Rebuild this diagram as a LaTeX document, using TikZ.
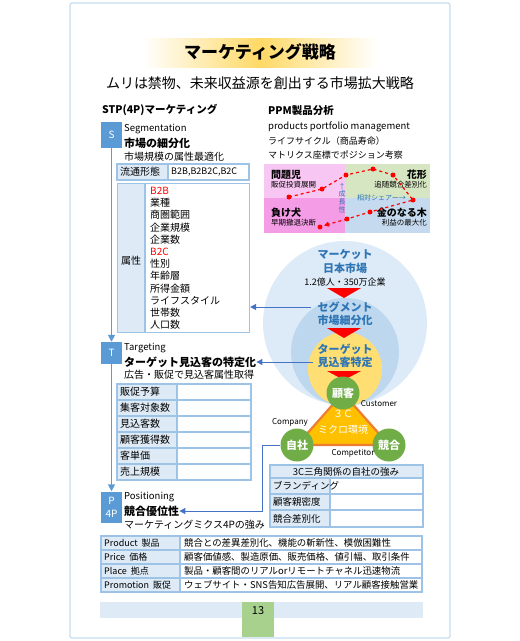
\documentclass[tikz,border=0pt]{standalone}
\usepackage{fontspec}
\setmainfont{Noto Sans CJK JP}
\usetikzlibrary{arrows.meta,calc}
\definecolor{frameblue}{HTML}{C5DCF0}
\definecolor{stpblue}{HTML}{5B9BD5}
\definecolor{tblline}{HTML}{9DC3E6}
\definecolor{tblfill}{HTML}{DEEBF7}
\definecolor{darkblue}{HTML}{4472C4}
\definecolor{txtblue}{HTML}{2E75B6}
\definecolor{circA}{HTML}{DDEAF7}
\definecolor{circB}{HTML}{BDD7EE}
\definecolor{circC}{HTML}{FFDF73}
\definecolor{gold}{HTML}{FFD966}
\definecolor{green3c}{HTML}{70AD47}
\definecolor{tri}{HTML}{FFC000}
\definecolor{trib}{HTML}{ED7D31}
\definecolor{ppmA}{HTML}{F8C6F2}
\definecolor{ppmB}{HTML}{F49DE6}
\definecolor{ppmC}{HTML}{D6E6C2}
\definecolor{ppmD}{HTML}{C6DAEF}
\definecolor{pagegreen}{HTML}{A9D18E}
\newcommand{\fs}[2]{\fontsize{#1}{#2}\selectfont}
\tikzset{
  txt/.style={inner sep=0pt, anchor=west},
  stpbox/.style={fill=stpblue, text=white, minimum width=21pt, inner sep=0pt, font=\fs{10}{11}, align=center},
  tbl/.style={draw=tblline, line width=1.1pt},
  cellfill/.style={fill=tblfill},
  gcirc/.style={circle, fill=green3c, text=white, minimum size=33pt, inner sep=0pt, font=\bfseries\fs{11}{12}},
  redtri/.style={fill=red},
  bluearrow/.style={darkblue, line width=1pt, -{Triangle[length=6pt,width=6pt]}},
  stpline/.style={stpblue, line width=1.6pt, -{Triangle[length=7pt,width=7pt]}},
  celltxt/.style={inner sep=0pt, anchor=west, font=\fs{10}{12}},
  smalllbl/.style={inner sep=0pt, font=\fs{8}{9}},
  ctext/.style={inner sep=0pt, text=txtblue, font=\bfseries\fs{11}{12}},
  reddot/.style={fill=red},
}
\begin{document}
\begin{tikzpicture}[x=1pt,y=-1pt]
\useasboundingbox (0,0) rectangle (520,641);
% frame
\draw[frameblue, line width=1.2pt, rounded corners=2pt] (70,3) rectangle (450,638);
% title
\shade[left color=white, right color=white, middle color=gold] (143,38) rectangle (377,67);
\node[inner sep=0pt, font=\bfseries\fs{17}{18}] (title) at (260,52) {マーケティング戦略};
\node[inner sep=0pt, font=\fs{14}{15}] (subtitle) at (260,83) {ムリは禁物、未来収益源を創出する市場拡大戦略};

% STP heading
\node[txt, font=\bfseries\fs{10.5}{12}] (stphead) at (102,110) {STP(4P)マーケティング};

% S
\node[stpbox, minimum height=26pt] (S) at (111.5,135) {S};
\node[txt, font=\fs{9.5}{11}] (segL) at (124,129) {Segmentation};
\node[txt, font=\bfseries\fs{11}{12}] (segT) at (124,143) {市場の細分化};
\node[txt, font=\fs{10}{11}] (segS) at (124,157) {市場規模の属性最適化};

% table 1
\fill[tblfill] (117,164) rectangle (168,180);
\draw[tbl] (117,164) rectangle (249,180);
\draw[tbl] (168,164) -- (168,180);
\node[celltxt] (ryutsu) at (120,172) {流通形態};
\node[celltxt, font=\fs{9}{10}] (b2b) at (171,172) {B2B,B2B2C,B2C};
\fill[tblfill] (117,183) rectangle (145,332);
\node[tbl, minimum width=132pt, minimum height=149pt, anchor=north west, inner sep=0pt] (attr) at (117,183) {};
\draw[tbl] (145,183) -- (145,332);
\node[celltxt] (zokusei) at (121,261) {属性};
\node[inner sep=0pt, anchor=north west, align=left, font=\fs{10}{12.2}] (attrlist) at (150,187)
  {{\color{red}B2B}\\業種\\商圏範囲\\企業規模\\企業数\\{\color{red}B2C}\\性別\\年齢層\\所得金額\\ライフスタイル\\世帯数\\人口数};

% T
\node[stpbox, minimum height=22pt] (T) at (111.5,353) {T};
\node[txt, font=\fs{9.5}{11}] (tgtL) at (124,348) {Targeting};
\node[txt, font=\bfseries\fs{11}{12}] (tgtT) at (124,362) {ターゲット見込客の特定化};
\node[txt, font=\fs{10}{11}] (tgtS) at (124,375) {広告・販促で見込客属性取得};

% table 2
\fill[tblfill] (117,384) rectangle (177,480);
\draw[tbl] (117,384) rectangle (251,480);
\draw[tbl] (177,384) -- (177,480);
\foreach \i in {1,...,5} { \draw[tbl] (117,384+16*\i) -- (251,384+16*\i); }
\foreach \t [count=\i from 0] in {販促予算,集客対象数,見込客数,顧客獲得数,客単価,売上規模} {
  \node[celltxt] (t2r\i) at (120,392+16*\i) {\t};
}

% P
\node[stpbox, minimum height=31pt, font=\fs{10}{13}] (P) at (111.5,507) {P\\4P};
\node[txt, font=\fs{9.5}{11}] (posL) at (124,497) {Positioning};
\node[txt, font=\bfseries\fs{11}{12}] (posT) at (124,511) {競合優位性};
\node[txt, font=\fs{10}{11}] (posS) at (124,525) {マーケティングミクス4Pの強み};

% STP vertical line
\draw[stpline] (S.south) -- (T.north);
\draw[stpline] (T.south) -- (P.north);

% 4P table
\fill[tblfill] (101,536) rectangle (180,592);
\draw[tbl] (101,536) rectangle (422,592);
\draw[tbl] (180,536) -- (180,592);
\foreach \i in {1,2,3} { \draw[tbl] (101,536+14*\i) -- (422,536+14*\i); }
\node[celltxt, font=\fs{9}{10}] (p1) at (104,543) {Product\ \ 製品};
\node[celltxt, font=\fs{9}{10}] (p2) at (104,557) {Price\ \ 価格};
\node[celltxt, font=\fs{9}{10}] (p3) at (104,571) {Place\ \ 拠点};
\node[celltxt, font=\fs{9}{10}] (p4) at (104,585) {Promotion\ \ 販促};
\node[celltxt, font=\fs{9.4}{11}] (q1) at (184,543) {競合との差異差別化、機能の斬新性、模倣困難性};
\node[celltxt, font=\fs{9.4}{11}] (q2) at (184,557) {顧客価値感、製造原価、販売価格、値引幅、取引条件};
\node[celltxt, font=\fs{9.4}{11}] (q3) at (184,571) {製品・顧客間のリアルorリモートチャネル迅速物流};
\node[celltxt, font=\fs{9.4}{11}] (q4) at (184,585) {ウェブサイト・SNS告知広告展開、リアル顧客接触営業};

% footer
\fill[tblfill] (100,602) rectangle (423,618);
\fill[pagegreen] (242,602) rectangle (274,637);
\node[inner sep=0pt, font=\fs{11}{12}] (pageno) at (258,611) {13};

% PPM
\node[txt, font=\bfseries\fs{10.5}{12}] (ppmhead) at (268,111) {PPM製品分析};
\node[txt, font=\fs{9.5}{11}] (ppmsub) at (268,127) {products portfolio management};
\node[txt, font=\fs{9}{10}] (ppm1) at (268,141) {ライフサイクル（商品寿命）};
\node[txt, font=\fs{9}{10}] (ppm2) at (268,155) {マトリクス座標でポジション考察};
\fill[ppmA] (264,164) rectangle (345,198);
\fill[ppmC] (345,164) rectangle (430,198);
\fill[ppmB] (264,198) rectangle (345,233);
\fill[ppmD] (345,198) rectangle (430,233);
\node[txt, font=\bfseries\fs{10}{11}] (mondai) at (271,175) {問題児};
\node[txt, font=\fs{7.5}{8}] (mondaiS) at (271,185) {販促投資展開};
\node[inner sep=0pt, anchor=east, font=\bfseries\fs{10}{11}] (hana) at (427,175) {花形};
\node[inner sep=0pt, anchor=east, font=\fs{7.5}{8}] (hanaS) at (427,185) {追随競合差別化};
\node[txt, font=\bfseries\fs{10}{11}] (make) at (271,213) {負け犬};
\node[txt, font=\fs{7.5}{8}] (makeS) at (271,223) {早期撤退決断};
\node[inner sep=0pt, anchor=east, font=\bfseries\fs{10}{11}] (kane) at (427,213) {金のなる木};
\node[inner sep=0pt, anchor=east, font=\fs{7.5}{8}] (kaneS) at (427,223) {利益の最大化};
\node[inner sep=0pt, text=txtblue, align=center, font=\fs{7}{7.6}] (seicho) at (342,198) {↑\\成\\長\\性};
\node[txt, text=txtblue, font=\fs{7}{8}] (share) at (357,198) {相対シェアー→};
\draw[red, dashed, line width=1.2pt] (289,197) -- (322,189) -- (346,175) -- (373,169) -- (393,175) -- (413,200) -- (370,212) -- (347,219);
\draw[red, dashed, line width=1.2pt, -{Triangle[length=5pt,width=5pt]}] (347,219) -- (324,225.5);
\foreach \p in {(289,197),(322,189),(346,175),(373,169),(393,175),(413,200),(370,212),(347,219),(320,227)} {
  \fill[reddot] \p circle[radius=2.5pt];
}

% circles
\fill[circA] (345,323) circle[radius=82pt];
\fill[circB] (345,352) circle[radius=54pt];
\fill[circC] (345,369) circle[radius=37pt];
\node[ctext] (mkt1) at (345,255) {マーケット};
\node[ctext] (mkt2) at (345,268) {日本市場};
\node[inner sep=0pt, font=\fs{9}{10}] (mkt3) at (345,282) {1.2億人・350万企業};
\fill[redtri] (327,288) -- (361,288) -- (344,298) -- cycle;
\node[ctext] (seg1) at (345,307) {セグメント};
\node[ctext] (seg2) at (345,320) {市場細分化};
\fill[redtri] (327,328) -- (361,328) -- (344,338) -- cycle;
\node[ctext] (tg1) at (345,349) {ターゲット};
\node[ctext] (tg2) at (345,362) {見込客特定};
\fill[redtri] (327,371) -- (361,371) -- (344,380) -- cycle;

\draw[bluearrow] (seg1.west) ++(-6,0) -- (seg1.west -| attr.east);
\draw[bluearrow] (tg2.west) ++(-4,0) -- (tgtT.east);

% 3C
\filldraw[fill=tri, draw=trib, line width=2.2pt, line join=round] (343,393) -- (297,445) -- (389,445) -- cycle;
\node[gcirc] (kokyaku) at (343,393) {顧客};
\node[gcirc] (jisha) at (297,445) {自社};
\node[gcirc] (kyogo) at (389,445) {競合};
\node[inner sep=0pt, text=white, font=\fs{10}{11}] (c3a) at (343,414) {３Ｃ};
\node[inner sep=0pt, text=white, font=\fs{10}{11}] (c3b) at (343,430) {ミクロ環境};
\node[smalllbl] (cust) at (379,404) {Customer};
\node[smalllbl] (comp) at (290,422) {Company};
\node[smalllbl] (compet) at (353,453) {Competitor};

\draw[bluearrow] (jisha.west) -- ++(-18,0) |- (posT.east);

% 3C table
\fill[tblfill] (270,465) rectangle (423,478);
\fill[tblfill] (270,478) rectangle (330,527);
\draw[tbl] (270,465) rectangle (423,527);
\draw[tbl] (270,478) -- (423,478);
\draw[tbl] (270,494) -- (423,494);
\draw[tbl] (270,510) -- (423,510);
\draw[tbl] (330,478) -- (330,527);
\node[inner sep=0pt, font=\fs{9.5}{10}] (c3head) at (346,471.5) {3C三角関係の自社の強み};
\node[celltxt, font=\fs{9.5}{10}] (c3r1) at (273,486) {ブランディング};
\node[celltxt, font=\fs{9.5}{10}] (c3r2) at (273,502) {顧客親密度};
\node[celltxt, font=\fs{9.5}{10}] (c3r3) at (273,518.5) {競合差別化};
\end{tikzpicture}
\end{document}
